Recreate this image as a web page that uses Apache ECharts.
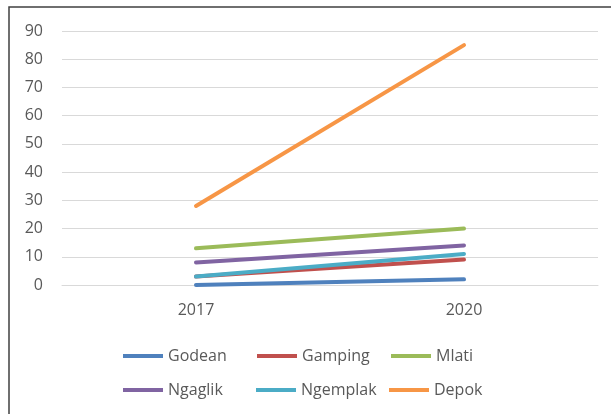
<!DOCTYPE html>
<html>
<head>
<meta charset="utf-8">
<script src="https://cdn.jsdelivr.net/npm/echarts@6/dist/echarts.min.js"></script>
<style>html,body{margin:0;padding:0;background:#fff;}#c{width:611px;height:414px;}</style>
</head>
<body>
<div id="c"></div>
<script>
const categories = ['2017', '2020'];
const seriesNames = ['Godean', 'Gamping', 'Mlati', 'Ngaglik', 'Ngemplak', 'Depok'];
const godean = [0, 2];
const gamping = [3, 9];
const mlati = [13, 20];
const ngaglik = [8, 14];
const ngemplak = [3, 11];
const depok = [28, 85];
const colors = ['#4F81BD', '#C0504D', '#9BBB59', '#8064A2', '#4BACC6', '#F79646'];
const values = [godean, gamping, mlati, ngaglik, ngemplak, depok];

const font = '"Open Sans", "Liberation Sans", sans-serif';
const legendPos = [
  {left: 123, top: 348}, {left: 257, top: 348}, {left: 391, top: 348},
  {left: 123, top: 382}, {left: 256, top: 382}, {left: 389, top: 382}
];

const chart = echarts.init(document.getElementById('c'), null, {renderer: 'canvas'});
chart.setOption({
  backgroundColor: '#fff',
  animation: false,
  color: colors,
  graphic: [{
    type: 'rect',
    shape: {x: 9, y: 7, width: 800, height: 600},
    style: {fill: 'none', stroke: '#404040', lineWidth: 1.5},
    silent: true
  }],
  grid: {left: 62, right: 13, top: 31, bottom: 129},
  legend: seriesNames.map((n, i) => ({
    data: [n],
    left: legendPos[i].left,
    top: legendPos[i].top,
    icon: 'rect',
    itemWidth: 40,
    itemHeight: 4,
    padding: 0,
    textStyle: {fontFamily: font, fontSize: 16, color: '#595959'}
  })),
  xAxis: {
    type: 'category',
    data: categories,
    boundaryGap: true,
    axisLine: {show: true, lineStyle: {color: '#D9D9D9', width: 1}},
    axisTick: {show: false},
    axisLabel: {fontFamily: font, fontSize: 16, color: '#595959', margin: 17}
  },
  yAxis: {
    type: 'value',
    min: 0,
    max: 90,
    interval: 10,
    axisLine: {show: false},
    axisTick: {show: false},
    splitLine: {lineStyle: {color: '#D9D9D9', width: 1}},
    axisLabel: {fontFamily: font, fontSize: 16, color: '#595959', margin: 19}
  },
  series: seriesNames.map((n, i) => ({
    name: n,
    type: 'line',
    data: values[i],
    symbol: 'none',
    lineStyle: {width: 4, color: colors[i], cap: 'round'},
    itemStyle: {color: colors[i]}
  }))
});
</script>
</body>
</html>
